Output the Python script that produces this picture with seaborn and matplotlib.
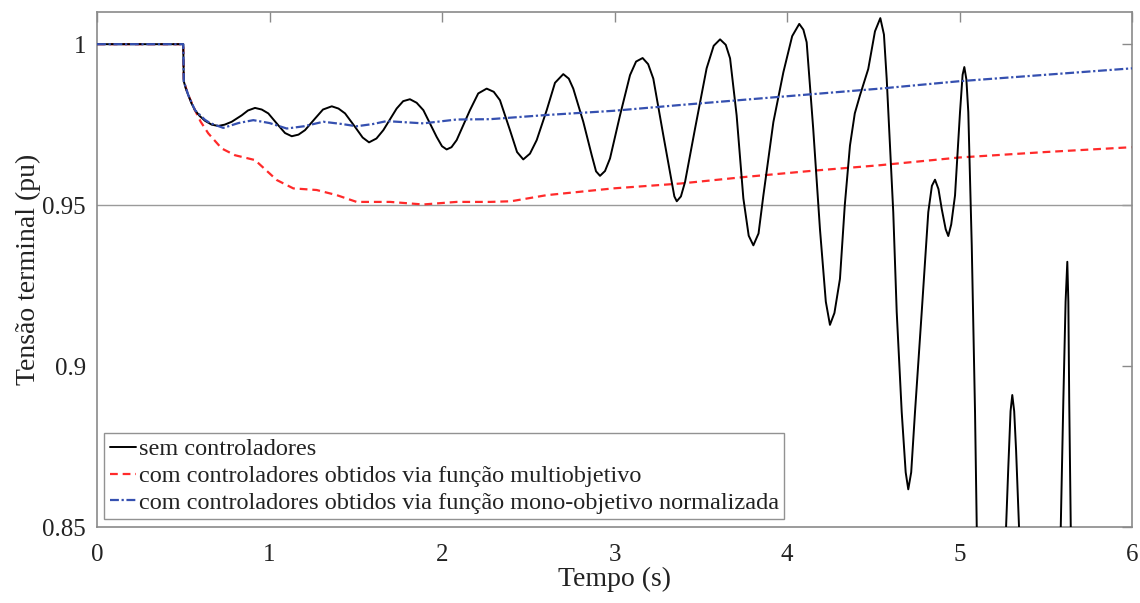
import numpy as np
import pandas as pd
import matplotlib
matplotlib.use("Agg")
import matplotlib.pyplot as plt
import seaborn as sns

# --- data ---
t_sem = [0.0, 0.5, 0.503, 0.515, 0.529, 0.548, 0.568, 0.595, 0.626, 0.665, 0.703,
         0.74, 0.781, 0.839, 0.875, 0.916, 0.955, 0.993, 1.051, 1.09, 1.129,
         1.168, 1.206, 1.264, 1.31, 1.361, 1.40, 1.438, 1.496, 1.54, 1.577,
         1.62, 1.660, 1.737, 1.775, 1.814, 1.853, 1.892, 1.969, 2.0, 2.027,
         2.055, 2.085, 2.162, 2.21, 2.259, 2.30, 2.336, 2.394, 2.435, 2.471,
         2.51, 2.549, 2.607, 2.655, 2.703, 2.735, 2.761, 2.819, 2.868, 2.893,
         2.916, 2.945, 2.974, 3.032, 3.090, 3.125, 3.163, 3.195, 3.225, 3.283,
         3.332, 3.347, 3.361, 3.385, 3.409, 3.467, 3.534, 3.575, 3.612, 3.645,
         3.670, 3.708, 3.747, 3.778, 3.805, 3.835, 3.863, 3.921, 3.979, 4.03,
         4.071, 4.095, 4.114, 4.152, 4.191, 4.225, 4.249, 4.275, 4.307, 4.335,
         4.365, 4.393, 4.423, 4.471, 4.51, 4.541, 4.562, 4.578, 4.616, 4.636,
         4.665, 4.688, 4.703, 4.720, 4.742, 4.781, 4.819, 4.840, 4.858, 4.878,
         4.897, 4.920, 4.935, 4.952, 4.974, 5.003, 5.018, 5.028, 5.040, 5.051,
         5.071, 5.090, 5.100, 5.14, 5.20, 5.25, 5.270, 5.283, 5.296, 5.306,
         5.317, 5.328, 5.345, 5.40, 5.47, 5.54, 5.587, 5.602, 5.615, 5.625,
         5.631, 5.636, 5.645, 5.70, 5.80, 6.0]
v_sem = [1.0, 1.0, 0.9885, 0.9862, 0.9842, 0.9816, 0.9795, 0.9777, 0.9762, 0.9750, 0.9746,
         0.9750, 0.9759, 0.9779, 0.9794, 0.9802, 0.9797, 0.9785, 0.9748, 0.9724, 0.9714,
         0.9719, 0.9733, 0.9769, 0.9797, 0.9807, 0.9800, 0.9785, 0.9743, 0.9710, 0.9695,
         0.9707, 0.9733, 0.9800, 0.9823, 0.9829, 0.9818, 0.9795, 0.9712, 0.9683, 0.9673,
         0.9680, 0.9702, 0.9795, 0.9847, 0.9862, 0.9852, 0.9826, 0.9733, 0.9665, 0.9642,
         0.9660, 0.9702, 0.9795, 0.9880, 0.9907, 0.9893, 0.9862, 0.9759, 0.9655, 0.9605,
         0.9591, 0.9606, 0.9645, 0.9779, 0.9904, 0.9946, 0.9957, 0.9938, 0.9893, 0.9717,
         0.9572, 0.9527, 0.9512, 0.9527, 0.9572, 0.9738, 0.9925, 0.9995, 1.0015, 0.9998,
         0.9956, 0.9779, 0.9521, 0.9405, 0.9375, 0.9412, 0.9530, 0.9758, 0.9913, 1.0025,
         1.0063, 1.0045, 1.0006, 0.9737, 0.9426, 0.9200, 0.9128, 0.9165, 0.9271, 0.9500,
         0.9685, 0.9785, 0.9841, 0.9923, 1.0040, 1.0081, 1.0030, 0.9892, 0.9478, 0.9168,
         0.8857, 0.8670, 0.8617, 0.8670, 0.8857, 0.9168, 0.9478, 0.9560, 0.9579, 0.9550,
         0.9488, 0.9425, 0.9404, 0.9440, 0.9530, 0.9789, 0.9905, 0.9929, 0.9890, 0.9789,
         0.9375, 0.8857, 0.8500, 0.80, 0.78, 0.80, 0.8500, 0.8687, 0.8860, 0.8910,
         0.8860, 0.8739, 0.8500, 0.80, 0.78, 0.80, 0.8500, 0.8894, 0.9200, 0.9324,
         0.9200, 0.8894, 0.8500, 0.80, 0.78, 0.78]

t_multi = [0.0, 0.5, 0.503, 0.529, 0.568, 0.60, 0.645, 0.723, 0.80, 0.916, 1.042,
           1.138, 1.273, 1.39, 1.505, 1.70, 1.89, 2.085, 2.278, 2.40, 2.607, 2.993,
           3.38, 3.766, 4.153, 4.539, 5.0, 5.5, 6.0]
v_multi = [1.0, 1.0, 0.9885, 0.9842, 0.9795, 0.9760, 0.9723, 0.9676, 0.9655, 0.9640, 0.9578,
           0.9552, 0.9547, 0.9531, 0.9510, 0.9510, 0.9502, 0.9510, 0.9510, 0.9512, 0.9531, 0.9552,
           0.9567, 0.9588, 0.9607, 0.9624, 0.9648, 0.9665, 0.9680]

t_mono = [0.0, 0.5, 0.503, 0.529, 0.568, 0.626, 0.655, 0.732, 0.82, 0.906, 1.0,
          1.10, 1.2, 1.312, 1.42, 1.505, 1.6, 1.679, 1.892, 2.085, 2.278, 2.607,
          2.993, 3.38, 3.766, 4.153, 4.539, 5.0, 5.5, 6.0]
v_mono = [1.0, 1.0, 0.9885, 0.9842, 0.9795, 0.9765, 0.9755, 0.9740, 0.9755, 0.9764, 0.9755,
          0.9738, 0.9745, 0.9759, 0.9752, 0.9745, 0.9752, 0.9761, 0.9754, 0.9766, 0.9767, 0.9780,
          0.9793, 0.9811, 0.9828, 0.9845, 0.9862, 0.9885, 0.9905, 0.9925]

labels = ["sem controladores",
          "com controladores obtidos via função multiobjetivo",
          "com controladores obtidos via função mono-objetivo normalizada"]
x_ticks = [0, 1, 2, 3, 4, 5, 6]
y_ticks = [0.85, 0.9, 0.95, 1.0]
y_ticklabels = ["0.85", "0.9", "0.95", "1"]

# --- style ---
sns.set_theme(style="white")
plt.rcParams['font.family'] = ['Liberation Serif', 'DejaVu Serif']

fig = plt.figure(figsize=(11.4, 6.03), dpi=100)
ax = fig.add_axes([97/1140, 1 - 527/603, (1132-97)/1140, (527-12)/603])

ax.axhline(0.95, color="#9a9a9a", lw=1.0, zorder=1)

sns.lineplot(x=t_sem, y=v_sem, ax=ax, color="black", lw=1.4, sort=False,
             label=labels[0], zorder=3)
ax.lines[-1].set_solid_joinstyle("round")
sns.lineplot(x=t_multi, y=v_multi, ax=ax, color="#ff2a2a", lw=1.6, sort=False,
             label=labels[1], zorder=2)
ax.lines[-1].set_dashes([3.5, 2.2])
sns.lineplot(x=t_mono, y=v_mono, ax=ax, color="#3550b0", lw=1.6, sort=False,
             label=labels[2], zorder=4)
ax.lines[-1].set_dashes([4.0, 1.2, 1.0, 1.2])

ax.set_xlim(0, 6)
ax.set_ylim(0.85, 1.01)
ax.set_xticks(x_ticks)
ax.set_xticklabels([str(v) for v in x_ticks])
ax.set_yticks(y_ticks)
ax.set_yticklabels(y_ticklabels)
ax.tick_params(direction="in", length=7, width=1, color="#8a8a8a",
               top=True, right=True, labelsize=18, labelcolor="#222222")
ax.tick_params(axis="x", pad=12)
ax.tick_params(axis="y", pad=8)
for s in ax.spines.values():
    s.set_color("#8a8a8a")
    s.set_linewidth(1.2)

ax.set_xlabel("Tempo (s)", fontsize=20, labelpad=1, color="#222222")
ax.set_ylabel("Tensão terminal (pu)", fontsize=20, labelpad=1, color="#222222")

leg = ax.legend(loc="lower left", bbox_to_anchor=(0.007, 0.015), fontsize=17.5,
                frameon=True, fancybox=False, handlelength=1.1, handletextpad=0.1,
                borderaxespad=0.0, borderpad=0.22, labelspacing=0.2)
leg.get_frame().set_edgecolor("#777777")
leg.get_frame().set_linewidth(1.0)
for txt in leg.get_texts():
    txt.set_color("#222222")

fig.savefig("out.png", dpi=100)
